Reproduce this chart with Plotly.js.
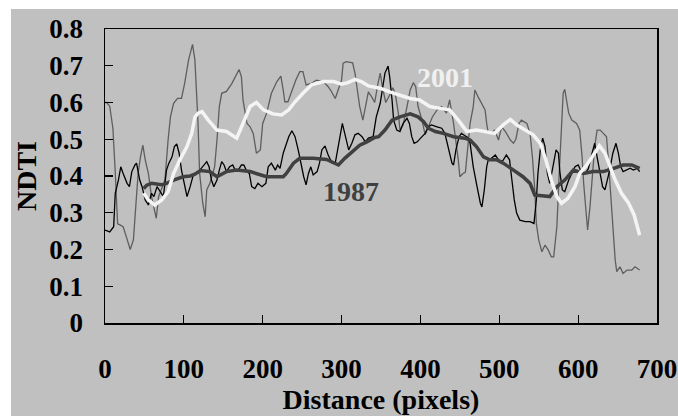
<!DOCTYPE html>
<html>
<head>
<meta charset="utf-8">
<script src="https://cdn.plot.ly/plotly-3.0.1.min.js"></script>
<style>
html,body{margin:0;padding:0;background:#ffffff;width:678px;height:416px;overflow:hidden;}
#chart{position:absolute;left:11px;top:9px;width:667px;height:407px;}
</style>
</head>
<body>
<div id="chart"></div>
<script>
// 2001 raw profile (thin gray)
const x2001raw = [0,2,6,10,13,14,16,19,23,27,32,36,39,42,45,48,51,55,59,65,68,76,80,83,87,92,97,101,106,111,114,116,118,120,124,127,129,133,139,142,145,148,154,161,167,170,173,175,180,184,188,192,197,200,205,211,218,223,226,228,232,237,242,247,251,255,262,268,277,283,286,292,296,300,302,306,314,317,320,323,327,330,334,338,342,346,349,352,356,361,365,368,372,374,378,383,387,391,394,397,402,406,410,415,421,427,433,437,442,445,448,450,454,457,459,463,467,469,473,478,482,484,486,490,494,499,503,508,514,518,521,525,528,535,539,542,545,547,550,554,558,562,566,569,573,576,579,581,583,588,592,598,602,605,607,610,612,615,618,621,624,628,632,636,638,641,644,647,649,653,657,662,668,672,678];
const y2001raw = [0.60,0.60,0.59,0.53,0.41,0.35,0.27,0.267,0.262,0.235,0.20,0.226,0.317,0.407,0.452,0.484,0.444,0.407,0.344,0.285,0.344,0.389,0.498,0.561,0.598,0.611,0.611,0.652,0.716,0.758,0.716,0.634,0.543,0.407,0.326,0.289,0.362,0.38,0.425,0.498,0.589,0.625,0.63,0.652,0.68,0.69,0.67,0.607,0.543,0.534,0.516,0.462,0.471,0.543,0.571,0.625,0.657,0.672,0.634,0.602,0.602,0.634,0.661,0.684,0.684,0.648,0.652,0.661,0.657,0.643,0.634,0.611,0.634,0.661,0.707,0.711,0.708,0.68,0.634,0.589,0.552,0.589,0.629,0.616,0.60,0.65,0.68,0.64,0.60,0.62,0.64,0.625,0.571,0.525,0.539,0.589,0.634,0.654,0.643,0.589,0.552,0.512,0.534,0.56,0.58,0.589,0.571,0.607,0.543,0.498,0.444,0.398,0.407,0.41,0.452,0.543,0.589,0.634,0.616,0.598,0.58,0.543,0.516,0.516,0.525,0.498,0.534,0.52,0.498,0.489,0.50,0.543,0.552,0.543,0.516,0.452,0.362,0.271,0.226,0.194,0.212,0.199,0.18,0.18,0.262,0.407,0.543,0.625,0.636,0.571,0.552,0.543,0.525,0.452,0.38,0.316,0.253,0.316,0.389,0.48,0.525,0.525,0.516,0.507,0.452,0.362,0.271,0.171,0.14,0.153,0.135,0.144,0.144,0.153,0.144];

// 1987 raw profile (thin black)
const x1987raw = [0,6,11,13,17,20,23,28,31,34,38,40,44,47,51,55,59,62,66,70,74,78,81,85,88,91,94,97,101,104,108,112,118,125,129,132,135,138,142,145,148,151,154,158,162,165,169,173,176,180,183,186,190,194,199,204,207,211,216,219,222,226,229,233,237,241,245,249,252,255,258,261,264,269,272,275,279,283,288,292,295,298,301,304,309,313,317,321,326,330,334,340,344,349,352,355,359,361,364,366,370,374,378,383,386,389,392,396,402,406,410,414,421,427,431,434,437,440,442,445,449,452,456,460,463,467,471,476,478,481,484,486,490,495,499,504,509,513,516,519,522,526,533,539,544,547,549,552,555,558,561,564,568,572,575,577,580,583,588,596,600,605,609,613,617,621,624,628,631,634,637,640,644,648,651,654,657,662,666,670,675,678];
const y1987raw = [0.253,0.248,0.262,0.353,0.389,0.425,0.407,0.38,0.371,0.412,0.43,0.435,0.389,0.371,0.335,0.321,0.353,0.344,0.371,0.357,0.344,0.416,0.435,0.452,0.48,0.487,0.462,0.416,0.371,0.344,0.371,0.403,0.41,0.43,0.439,0.425,0.389,0.371,0.389,0.416,0.439,0.43,0.412,0.425,0.43,0.416,0.416,0.43,0.43,0.412,0.407,0.371,0.366,0.38,0.371,0.38,0.425,0.435,0.416,0.43,0.421,0.462,0.48,0.507,0.523,0.507,0.471,0.425,0.398,0.376,0.407,0.425,0.403,0.412,0.435,0.471,0.482,0.457,0.435,0.435,0.471,0.516,0.543,0.516,0.471,0.489,0.512,0.516,0.507,0.493,0.503,0.507,0.561,0.598,0.643,0.68,0.699,0.67,0.607,0.552,0.525,0.521,0.543,0.557,0.543,0.507,0.489,0.493,0.507,0.516,0.534,0.539,0.534,0.53,0.516,0.489,0.462,0.435,0.43,0.471,0.507,0.516,0.51,0.505,0.489,0.425,0.38,0.326,0.316,0.362,0.425,0.444,0.448,0.457,0.444,0.44,0.457,0.444,0.389,0.335,0.299,0.28,0.276,0.276,0.271,0.335,0.407,0.471,0.503,0.48,0.407,0.38,0.425,0.471,0.462,0.407,0.362,0.357,0.389,0.425,0.43,0.407,0.407,0.42,0.457,0.489,0.452,0.407,0.371,0.362,0.389,0.416,0.462,0.489,0.462,0.425,0.412,0.416,0.421,0.416,0.421,0.412];

// 1987 smoothed (thick dark gray)
const x1987s = [49,53,59,66,72,78,87,99,108,114,121,133,142,154,167,184,197,205,218,226,230,239,247,264,281,290,296,304,313,323,332,342,347,355,364,374,387,397,404,410,419,429,442,456,463,471,480,488,497,505,518,530,539,545,554,564,573,583,594,600,607,619,632,645,657,668,678];
const y1987s = [0.366,0.375,0.38,0.378,0.376,0.38,0.389,0.398,0.40,0.405,0.415,0.412,0.398,0.412,0.416,0.412,0.403,0.398,0.398,0.398,0.407,0.435,0.448,0.448,0.445,0.435,0.43,0.448,0.466,0.484,0.493,0.505,0.507,0.525,0.552,0.561,0.569,0.561,0.548,0.53,0.521,0.516,0.507,0.503,0.498,0.48,0.452,0.444,0.444,0.435,0.416,0.398,0.38,0.348,0.346,0.344,0.371,0.389,0.416,0.412,0.407,0.412,0.412,0.421,0.43,0.43,0.421];

// 2001 smoothed (thick white)
const x2001s = [49,55,63,72,80,87,95,104,110,114,118,123,131,142,154,167,175,184,192,201,213,224,233,241,251,262,277,290,300,308,317,325,334,342,349,361,374,387,399,412,425,437,448,459,471,484,494,505,514,522,533,543,552,559,566,573,579,587,596,602,611,619,627,634,640,647,655,664,671,678];
const y2001s = [0.353,0.335,0.321,0.335,0.357,0.407,0.444,0.48,0.516,0.56,0.571,0.575,0.552,0.525,0.521,0.503,0.543,0.589,0.60,0.58,0.569,0.566,0.58,0.602,0.625,0.648,0.657,0.657,0.65,0.654,0.663,0.657,0.645,0.643,0.639,0.629,0.62,0.611,0.607,0.589,0.584,0.58,0.552,0.521,0.525,0.521,0.516,0.539,0.554,0.539,0.525,0.512,0.489,0.444,0.389,0.344,0.326,0.339,0.371,0.407,0.43,0.457,0.482,0.462,0.425,0.389,0.353,0.326,0.294,0.239];

const labels = ['2001', '1987'];
const xTicks = [0,100,200,300,400,500,600,700];
const yTicks = [0,0.1,0.2,0.3,0.4,0.5,0.6,0.7,0.8];

const serif = 'Liberation Serif, Times New Roman, serif';

const traces = [
  {x: x2001raw, y: y2001raw, mode: 'lines', line: {color: '#5e5e5e', width: 1.3}, name: '2001 raw'},
  {x: x1987raw, y: y1987raw, mode: 'lines', line: {color: '#000000', width: 1.3}, name: '1987 raw'},
  {x: x1987s, y: y1987s, mode: 'lines', line: {color: '#404040', width: 3.5}, name: '1987'},
  {x: x2001s, y: y2001s, mode: 'lines', line: {color: '#f4f4f4', width: 3.5}, name: '2001'}
];

const axisCommon = {
  showgrid: false, zeroline: false, showline: true, mirror: true,
  linecolor: '#000000', linewidth: 1.5,
  ticks: 'inside', ticklen: 8, tickwidth: 1.2, tickcolor: '#000000',
  ticklabeloverflow: 'allow',
  tickfont: {family: serif, size: 27, color: '#000000', weight: 'bold'}
};

const layout = {
  width: 667, height: 407,
  margin: {l: 94, r: 21, t: 20, b: 93},
  paper_bgcolor: '#c0c0c0', plot_bgcolor: '#c0c0c0',
  showlegend: false,
  xaxis: Object.assign({}, axisCommon, {
    range: [0, 700], tickvals: xTicks, ticktext: xTicks.map(String),
    ticklabelstandoff: 21,
    title: {text: 'Distance (pixels)', font: {family: serif, size: 28, color: '#000000', weight: 'bold'}, standoff: 1}
  }),
  yaxis: Object.assign({}, axisCommon, {
    range: [0, 0.8], tickvals: yTicks, ticktext: yTicks.map(String),
    ticklabelstandoff: 15,
    title: {text: 'NDTI', font: {family: serif, size: 28, color: '#000000', weight: 'bold'}, standoff: 11}
  }),
  annotations: [
    {x: 431, y: 0.667, xref: 'x', yref: 'y', text: labels[0], showarrow: false,
     font: {family: serif, size: 28, color: '#f0f0f0', weight: 'bold'}},
    {x: 312, y: 0.359, xref: 'x', yref: 'y', text: labels[1], showarrow: false,
     font: {family: serif, size: 28, color: '#404040', weight: 'bold'}}
  ]
};

Plotly.newPlot('chart', traces, layout, {staticPlot: true, displayModeBar: false});
</script>
</body>
</html>
